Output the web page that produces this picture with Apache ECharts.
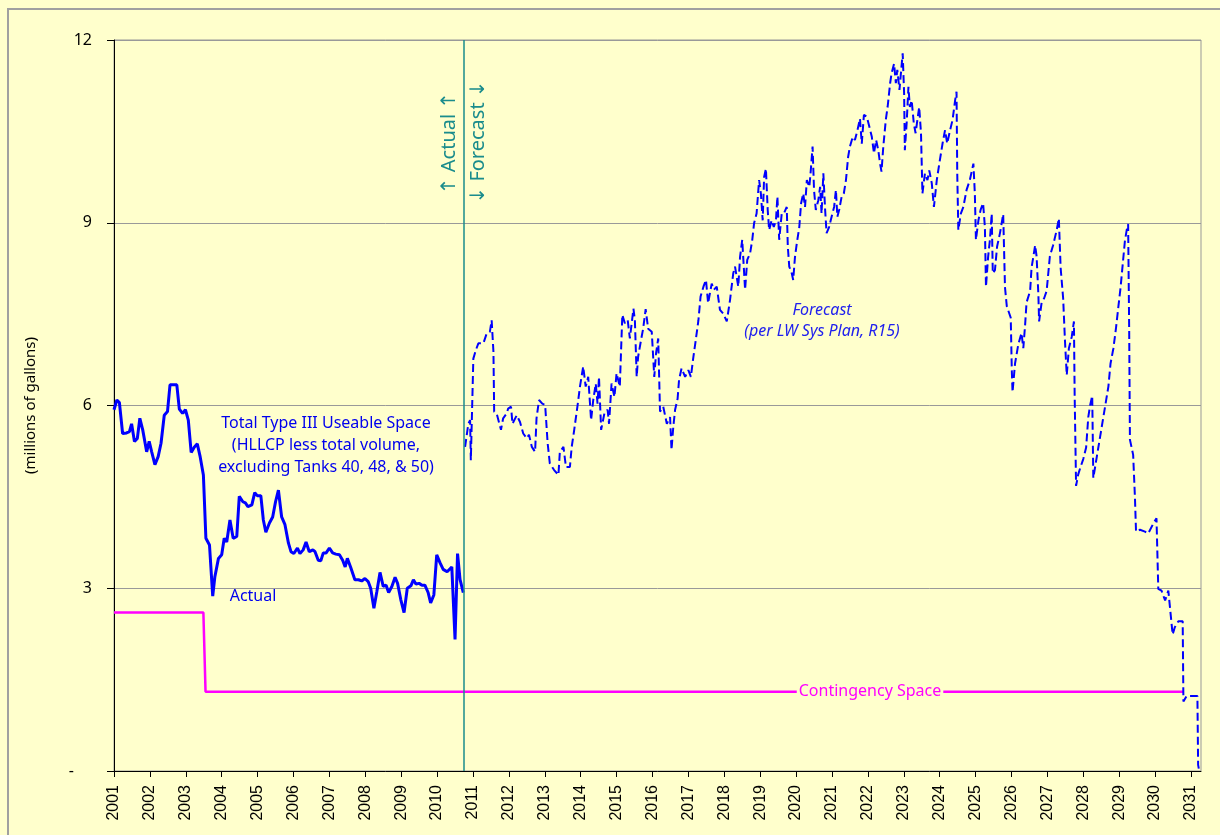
<!DOCTYPE html>
<html>
<head>
<meta charset="utf-8">
<title>Total Type III Useable Space</title>
<script src="https://cdn.jsdelivr.net/npm/echarts@6/dist/echarts.min.js"></script>
<style>
  html, body { margin: 0; padding: 0; background: #ffffcc; }
</style>
</head>
<body>
<div id="chartSpace" style="width:1220px; height:835px;"></div>
<script>
// year ticks along the bottom
let yearTicks = []
for (let y = 2001; y <= 2031; y++) yearTicks.push(y)

// y ticks (millions of gallons)
let valueTicks = [0, 3, 6, 9, 12]

// month the actual data ends and the forecast begins
let splitYear = 2010.73

// actual useable space, [year, millions of gallons]
let actual = [
  [2001.00, 5.93], [2001.08, 6.09], [2001.15, 6.05], [2001.24, 5.54], [2001.35, 5.55], [2001.43, 5.57],
  [2001.49, 5.70], [2001.57, 5.41], [2001.65, 5.46], [2001.72, 5.79], [2001.80, 5.60], [2001.91, 5.24],
  [2001.98, 5.41], [2002.05, 5.24], [2002.14, 5.03], [2002.23, 5.16], [2002.31, 5.38], [2002.40, 5.84],
  [2002.49, 5.90], [2002.56, 6.34], [2002.75, 6.34], [2002.82, 5.94], [2002.91, 5.87], [2002.99, 5.93],
  [2003.07, 5.76], [2003.15, 5.23], [2003.24, 5.32], [2003.32, 5.37], [2003.40, 5.16], [2003.49, 4.86],
  [2003.56, 3.82], [2003.66, 3.71], [2003.75, 2.87], [2003.81, 3.19], [2003.91, 3.49], [2004.00, 3.55],
  [2004.07, 3.82], [2004.14, 3.76], [2004.23, 4.12], [2004.32, 3.82], [2004.42, 3.85], [2004.49, 4.51],
  [2004.59, 4.42], [2004.66, 4.40], [2004.73, 4.34], [2004.84, 4.37], [2004.92, 4.57], [2004.99, 4.52],
  [2005.09, 4.52], [2005.16, 4.12], [2005.23, 3.92], [2005.33, 4.07], [2005.42, 4.17], [2005.50, 4.42],
  [2005.58, 4.61], [2005.67, 4.17], [2005.76, 4.05], [2005.86, 3.74], [2005.93, 3.60], [2006.01, 3.57],
  [2006.11, 3.66], [2006.18, 3.57], [2006.27, 3.63], [2006.35, 3.76], [2006.44, 3.60], [2006.54, 3.63],
  [2006.60, 3.60], [2006.69, 3.46], [2006.76, 3.45], [2006.83, 3.58], [2006.91, 3.58], [2007.00, 3.66],
  [2007.09, 3.58], [2007.18, 3.56], [2007.28, 3.55], [2007.37, 3.46], [2007.44, 3.35], [2007.50, 3.49],
  [2007.59, 3.35], [2007.71, 3.14], [2007.81, 3.14], [2007.90, 3.12], [2007.99, 3.16], [2008.08, 3.11],
  [2008.15, 3.00], [2008.24, 2.67], [2008.32, 2.94], [2008.41, 3.26], [2008.50, 3.03], [2008.58, 3.05],
  [2008.65, 2.93], [2008.74, 3.03], [2008.83, 3.18], [2008.90, 3.08], [2008.99, 2.81], [2009.08, 2.60],
  [2009.17, 3.00], [2009.27, 3.04], [2009.34, 3.14], [2009.41, 3.07], [2009.50, 3.08], [2009.58, 3.05],
  [2009.66, 3.05], [2009.75, 2.93], [2009.82, 2.76], [2009.91, 2.89], [2009.99, 3.55], [2010.08, 3.42],
  [2010.17, 3.31], [2010.28, 3.27], [2010.41, 3.35], [2010.50, 2.16], [2010.57, 3.57], [2010.64, 3.14],
  [2010.73, 2.93]
]

// forecast (per LW Sys Plan, R15), [year, millions of gallons]
let forecast = [
  [2010.78, 5.32], [2010.87, 5.70], [2010.92, 5.76], [2010.94, 5.10], [2010.98, 5.08], [2011.01, 6.77],
  [2011.08, 6.91], [2011.15, 7.02], [2011.29, 7.02], [2011.38, 7.18], [2011.47, 7.21], [2011.52, 7.40],
  [2011.57, 6.88], [2011.59, 5.90], [2011.66, 5.87], [2011.78, 5.60], [2011.84, 5.79], [2011.94, 5.87],
  [2011.98, 5.95], [2012.06, 5.98], [2012.10, 5.70], [2012.22, 5.84], [2012.31, 5.73], [2012.40, 5.54],
  [2012.50, 5.46], [2012.56, 5.52], [2012.64, 5.32], [2012.73, 5.24], [2012.77, 5.79], [2012.84, 6.09],
  [2012.93, 6.03], [2013.01, 6.01], [2013.08, 5.38], [2013.14, 5.05], [2013.26, 4.94], [2013.38, 4.86],
  [2013.42, 5.24], [2013.52, 5.32], [2013.59, 4.99], [2013.70, 4.99], [2013.75, 5.32], [2013.82, 5.60],
  [2013.92, 6.03], [2013.98, 6.31], [2014.07, 6.64], [2014.14, 6.31], [2014.21, 6.47], [2014.29, 5.76],
  [2014.35, 6.09], [2014.42, 6.36], [2014.47, 6.03], [2014.51, 6.47], [2014.57, 5.60], [2014.66, 5.87],
  [2014.75, 5.93], [2014.79, 5.70], [2014.86, 6.36], [2014.94, 6.14], [2015.00, 6.53], [2015.09, 6.31],
  [2015.16, 7.49], [2015.23, 7.35], [2015.31, 7.40], [2015.37, 7.10], [2015.47, 7.59], [2015.51, 7.40],
  [2015.56, 6.47], [2015.60, 6.80], [2015.68, 7.07], [2015.74, 7.26], [2015.81, 7.58], [2015.88, 7.26],
  [2015.98, 7.21], [2016.05, 6.47], [2016.10, 6.86], [2016.16, 7.10], [2016.21, 5.90], [2016.30, 5.98],
  [2016.40, 5.70], [2016.49, 5.81], [2016.53, 5.27], [2016.58, 5.65], [2016.63, 5.93], [2016.70, 6.11],
  [2016.74, 6.42], [2016.81, 6.61], [2016.91, 6.47], [2017.00, 6.58], [2017.07, 6.47], [2017.14, 6.80],
  [2017.20, 7.05], [2017.28, 7.40], [2017.34, 7.79], [2017.42, 7.95], [2017.49, 8.06], [2017.55, 7.68],
  [2017.65, 8.00], [2017.71, 7.90], [2017.79, 7.95], [2017.88, 7.57], [2017.97, 7.51], [2018.07, 7.38],
  [2018.16, 7.73], [2018.25, 8.17], [2018.30, 8.28], [2018.39, 7.95], [2018.44, 8.44], [2018.50, 8.72],
  [2018.58, 7.90], [2018.64, 8.39], [2018.72, 8.50], [2018.78, 8.72], [2018.83, 8.99], [2018.90, 9.15],
  [2018.97, 9.70], [2019.02, 9.48], [2019.07, 9.04], [2019.11, 9.75], [2019.16, 9.89], [2019.21, 9.21],
  [2019.25, 8.88], [2019.32, 9.04], [2019.38, 8.93], [2019.44, 9.04], [2019.48, 9.43], [2019.53, 8.72],
  [2019.60, 9.15], [2019.66, 9.15], [2019.74, 9.26], [2019.77, 8.61], [2019.81, 8.28], [2019.88, 8.17],
  [2019.92, 8.06], [2019.97, 8.44], [2020.02, 8.66], [2020.09, 8.93], [2020.14, 9.32], [2020.20, 9.48],
  [2020.25, 9.26], [2020.30, 9.70], [2020.37, 9.59], [2020.41, 9.86], [2020.46, 10.25], [2020.50, 9.54],
  [2020.55, 9.21], [2020.62, 9.37], [2020.67, 9.59], [2020.71, 9.15], [2020.76, 9.81], [2020.81, 9.21],
  [2020.85, 8.83], [2020.92, 8.93], [2020.99, 9.10], [2021.06, 9.26], [2021.11, 9.54], [2021.15, 9.10],
  [2021.20, 9.21], [2021.27, 9.43], [2021.33, 9.48], [2021.39, 9.70], [2021.45, 10.08], [2021.50, 10.25],
  [2021.58, 10.41], [2021.64, 10.36], [2021.71, 10.52], [2021.78, 10.71], [2021.83, 10.30], [2021.89, 10.77],
  [2021.97, 10.74], [2022.04, 10.58], [2022.11, 10.41], [2022.17, 10.14], [2022.23, 10.36], [2022.29, 10.19],
  [2022.34, 9.97], [2022.38, 9.84], [2022.43, 10.25], [2022.50, 10.69], [2022.55, 10.90], [2022.62, 11.29],
  [2022.66, 11.45], [2022.73, 11.61], [2022.78, 11.29], [2022.82, 11.51], [2022.88, 11.18], [2022.92, 11.45],
  [2022.97, 11.78], [2023.01, 11.12], [2023.03, 10.19], [2023.08, 10.63], [2023.13, 11.23], [2023.17, 10.90],
  [2023.22, 11.01], [2023.28, 10.63], [2023.33, 10.47], [2023.38, 10.69], [2023.43, 10.90], [2023.48, 10.47],
  [2023.52, 9.48], [2023.59, 9.81], [2023.66, 9.70], [2023.71, 9.86], [2023.78, 9.65], [2023.84, 9.26],
  [2023.92, 9.70], [2023.99, 9.97], [2024.08, 10.30], [2024.15, 10.52], [2024.21, 10.30], [2024.29, 10.52],
  [2024.36, 10.69], [2024.43, 11.01], [2024.47, 11.15], [2024.49, 9.81], [2024.52, 8.88], [2024.59, 9.15],
  [2024.66, 9.26], [2024.75, 9.54], [2024.84, 9.70], [2024.94, 9.97], [2024.98, 9.48], [2025.01, 8.72],
  [2025.08, 9.04], [2025.14, 9.21], [2025.21, 9.32], [2025.26, 8.93], [2025.29, 7.95], [2025.35, 8.44],
  [2025.40, 8.72], [2025.45, 9.15], [2025.48, 8.17], [2025.54, 8.22], [2025.60, 8.61], [2025.68, 8.83],
  [2025.77, 9.14], [2025.82, 7.94], [2025.87, 7.63], [2025.98, 7.44], [2026.01, 6.57], [2026.03, 6.22],
  [2026.10, 6.69], [2026.19, 7.00], [2026.28, 7.19], [2026.33, 6.94], [2026.38, 7.32], [2026.42, 7.69],
  [2026.52, 7.88], [2026.56, 8.26], [2026.66, 8.63], [2026.70, 8.45], [2026.75, 7.82], [2026.77, 7.38],
  [2026.84, 7.69], [2026.91, 7.76], [2026.98, 7.88], [2027.07, 8.45], [2027.16, 8.63], [2027.26, 8.88],
  [2027.32, 9.07], [2027.37, 8.26], [2027.44, 7.76], [2027.49, 7.07], [2027.54, 6.50], [2027.60, 6.94],
  [2027.68, 7.13], [2027.74, 7.38], [2027.76, 6.19], [2027.80, 4.68], [2027.86, 4.87], [2027.93, 5.00],
  [2028.00, 5.12], [2028.08, 5.31], [2028.14, 5.81], [2028.19, 6.00], [2028.25, 6.16], [2028.28, 4.81],
  [2028.35, 5.06], [2028.42, 5.31], [2028.49, 5.56], [2028.56, 5.81], [2028.63, 6.06], [2028.70, 6.31],
  [2028.76, 6.69], [2028.84, 6.94], [2028.91, 7.26], [2028.98, 7.63], [2029.04, 7.94], [2029.10, 8.32],
  [2029.16, 8.70], [2029.21, 8.88], [2029.25, 8.98], [2029.28, 7.19], [2029.30, 5.44], [2029.39, 5.19],
  [2029.44, 4.49], [2029.47, 3.93], [2029.58, 3.96], [2029.72, 3.93], [2029.81, 3.90], [2029.95, 4.06],
  [2030.04, 4.15], [2030.09, 2.99], [2030.18, 2.96], [2030.28, 2.80], [2030.37, 2.96], [2030.42, 2.99],
  [2030.49, 2.24], [2030.55, 2.36], [2030.65, 2.46], [2030.77, 2.46], [2030.79, 1.14], [2030.88, 1.23],
  [2030.97, 1.23], [2031.18, 1.23], [2031.20, 0.10], [2031.23, 0.00]
]

// contingency space, [year, millions of gallons]
let contingency = [
  [2001.00, 2.6], [2003.49, 2.6], [2003.55, 1.3], [2030.79, 1.3]
]

let textFont = "'Noto Sans', 'DejaVu Sans', sans-serif"
let myChart = echarts.init(document.getElementById('chartSpace'))

let option = {
  animation: false,
  backgroundColor: '#ffffcc',
  grid: {
    left: 114,
    top: 40,
    right: 19,
    bottom: 64,
    show: true,
    borderColor: '#999999',
    borderWidth: 1
  },
  xAxis: {
    type: 'value',
    min: 2001,
    max: 2031.28,
    interval: 1,
    axisLine: { lineStyle: { color: '#000', width: 1 } },
    axisTick: { customValues: yearTicks, length: 6, lineStyle: { color: '#000' } },
    axisLabel: {
      customValues: yearTicks,
      rotate: 90,
      margin: 14,
      color: '#000',
      fontSize: 16,
      fontFamily: "'Liberation Sans', Arial, sans-serif",
      formatter: function(v) {
        return String(v)
      }
    },
    splitLine: { show: false }
  },
  yAxis: {
    type: 'value',
    min: 0,
    max: 12,
    interval: 3,
    name: '(millions of gallons)',
    nameLocation: 'middle',
    nameGap: 76,
    nameTextStyle: { color: '#000', fontSize: 15, fontFamily: textFont },
    axisLine: { show: true, lineStyle: { color: '#000', width: 1 } },
    axisTick: { show: true, customValues: valueTicks, length: 7, lineStyle: { color: '#000' } },
    axisLabel: {
      margin: 22,
      color: '#000',
      fontSize: 16,
      fontFamily: textFont,
      formatter: function(v) {
        return v === 0 ? '{d|-}' : String(v)
      },
      rich: { d: { fontSize: 16, color: '#000', padding: [0, 18, 0, 0] } }
    },
    splitLine: { show: true, lineStyle: { color: '#999999', width: 1 } }
  },
  graphic: [
    {
      type: 'rect',
      z: -1,
      shape: { x: 8, y: 9, width: 1240, height: 900 },
      style: { fill: 'none', stroke: '#a0a0a0', lineWidth: 2 }
    },
    {
      type: 'text',
      x: 326,
      y: 445,
      style: {
        text: 'Total Type III Useable Space\n(HLLCP less total volume,\nexcluding Tanks 40, 48, & 50)',
        fill: '#0000ee',
        font: '16px ' + textFont,
        lineHeight: 22,
        align: 'center',
        verticalAlign: 'middle'
      }
    },
    {
      type: 'text',
      x: 253,
      y: 596,
      style: {
        text: 'Actual',
        fill: '#0000ee',
        font: '16px ' + textFont,
        align: 'center',
        verticalAlign: 'middle'
      }
    },
    {
      type: 'text',
      x: 822,
      y: 321,
      style: {
        text: 'Forecast\n(per LW Sys Plan, R15)',
        fill: '#2020ee',
        font: 'italic 16px ' + textFont,
        lineHeight: 21,
        align: 'center',
        verticalAlign: 'middle'
      }
    },
    {
      type: 'text',
      x: 449,
      y: 143,
      rotation: Math.PI / 2,
      style: {
        text: '↑ Actual ↑',
        fill: '#1a8c8c',
        font: '20px ' + textFont,
        align: 'center',
        verticalAlign: 'middle'
      }
    },
    {
      type: 'text',
      x: 478,
      y: 142,
      rotation: Math.PI / 2,
      style: {
        text: '↓ Forecast ↓',
        fill: '#1a8c8c',
        font: '20px ' + textFont,
        align: 'center',
        verticalAlign: 'middle'
      }
    }
  ],
  series: [
    {
      name: 'Contingency Space',
      type: 'line',
      data: contingency,
      showSymbol: false,
      lineStyle: { color: '#ff00ff', width: 2.5 },
      z: 2,
      markPoint: {
        symbol: 'rect',
        symbolSize: 1,
        itemStyle: { color: 'rgba(0,0,0,0)' },
        label: {
          show: true,
          position: 'inside',
          formatter: 'Contingency Space',
          color: '#ff00ff',
          fontSize: 16,
          fontFamily: textFont,
          backgroundColor: '#ffffcc',
          padding: [1, 2]
        },
        data: [{ coord: [2022.06, 1.3] }]
      }
    },
    {
      name: 'Actual',
      type: 'line',
      data: actual,
      showSymbol: false,
      lineStyle: { color: '#0000ff', width: 3 },
      z: 3,
      markLine: {
        silent: true,
        symbol: ['none', 'none'],
        label: { show: false },
        lineStyle: { color: '#1a8c8c', width: 1.5, type: 'solid' },
        data: [{ xAxis: splitYear }]
      }
    },
    {
      name: 'Forecast',
      type: 'line',
      data: forecast,
      showSymbol: false,
      lineStyle: { color: '#0000ff', width: 2, type: [8, 4] },
      z: 3
    }
  ]
}

myChart.setOption(option)
</script>
</body>
</html>
